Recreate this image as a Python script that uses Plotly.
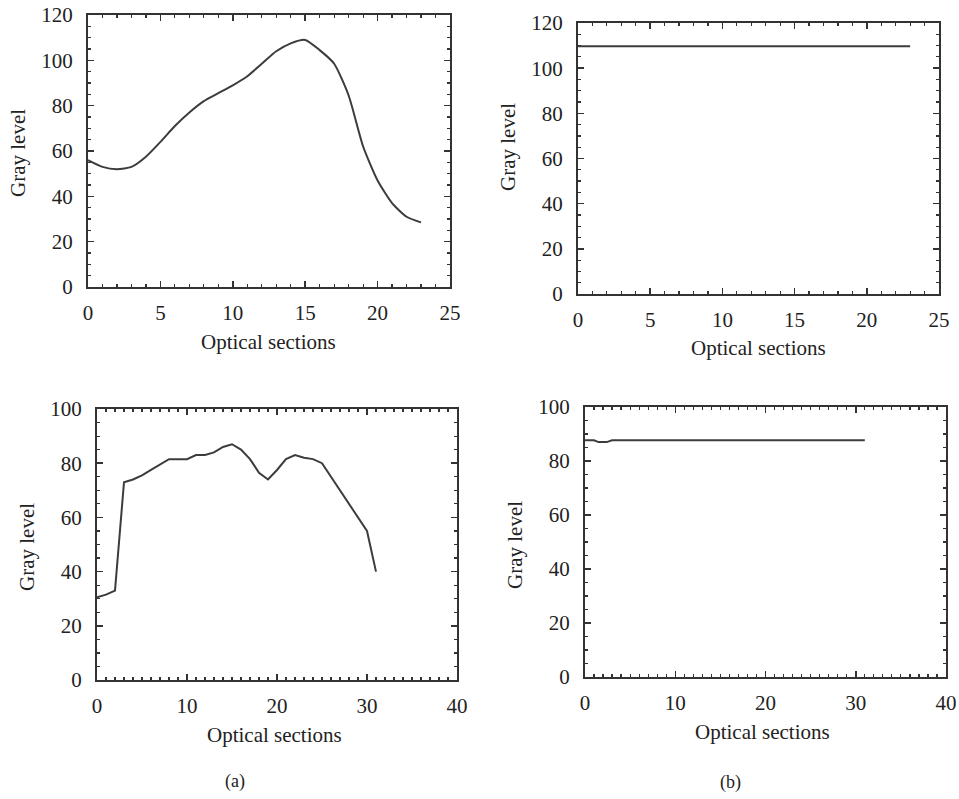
import plotly.graph_objects as go

W, H = 959, 799

# ---- data ----
sec_a1 = list(range(0, 24))
gray_a1 = [56, 53, 52, 53, 57.5, 64, 71, 77, 82, 85.5, 89, 93, 98.5, 104, 107.5, 109,
           104.5, 98.5, 84.5, 62, 47, 37, 31, 28.5]

sec_b1 = [0, 23]
gray_b1 = [109.7, 109.7]

sec_a2 = list(range(0, 32))
gray_a2 = [30.5, 31.5, 33, 73, 74, 75.5, 77.5, 79.5, 81.5, 81.5, 81.5, 83, 83, 84, 86, 87,
           85, 81.5, 76.5, 74, 77.5, 81.5, 83, 82, 81.5, 80, 75, 70, 65.5, 60.5, 55, 40]

sec_b2 = [0, 1, 1.5, 2, 2.4, 3, 31]
gray_b2 = [87.7, 87.7, 87.0, 86.9, 87.0, 87.7, 87.7]

x_ticks_top = [0, 5, 10, 15, 20, 25]
y_ticks_top = [0, 20, 40, 60, 80, 100, 120]
x_ticks_bot = [0, 10, 20, 30, 40]
y_ticks_bot = [0, 20, 40, 60, 80, 100]

# ---- layout geometry (page pixels: left, right, top, bottom) ----
boxes = {
    1: (88, 450, 15, 287),
    2: (578, 939, 23, 294),
    3: (97, 457, 409, 680),
    4: (585, 946, 407, 677),
}


def px_x(p):
    return p / W


def px_y(p):
    return 1 - p / H


FONT = "Liberation Serif"
TXT = "#222222"
AX = "#333333"
LINE = "#3c3c3c"

fig = go.Figure()
fig.add_trace(go.Scatter(x=sec_a1, y=gray_a1, mode="lines", xaxis="x", yaxis="y",
                         line=dict(color=LINE, width=2, shape="spline", smoothing=0.6)))
fig.add_trace(go.Scatter(x=sec_b1, y=gray_b1, mode="lines", xaxis="x2", yaxis="y2",
                         line=dict(color=LINE, width=2)))
fig.add_trace(go.Scatter(x=sec_a2, y=gray_a2, mode="lines", xaxis="x3", yaxis="y3",
                         line=dict(color=LINE, width=2)))
fig.add_trace(go.Scatter(x=sec_b2, y=gray_b2, mode="lines", xaxis="x4", yaxis="y4",
                         line=dict(color=LINE, width=2)))


def axis(domain, rng, ticks, minor_dtick, anchor, is_x):
    return dict(
        domain=domain, range=rng, tickvals=ticks, anchor=anchor,
        automargin=False, ticklabeloverflow="allow",
        showline=True, linecolor=AX, linewidth=2, mirror="ticks",
        ticks="inside", ticklen=6, tickwidth=1.5, tickcolor=AX,
        minor=dict(ticks="inside", ticklen=3, tickwidth=1.2, tickcolor=AX,
                   dtick=minor_dtick, tick0=0, showgrid=False),
        showgrid=False, zeroline=False, fixedrange=True,
        tickfont=dict(family=FONT, size=21, color=TXT),
        ticklabelstandoff=9 if not is_x else 6,
    )


ranges = {
    1: ([0, 25], x_ticks_top, 1, [0, 120], y_ticks_top, 5),
    2: ([0, 25], x_ticks_top, 1, [0, 120], y_ticks_top, 5),
    3: ([0, 40], x_ticks_bot, 1, [0, 100], y_ticks_bot, 5),
    4: ([0, 40], x_ticks_bot, 1, [0, 100], y_ticks_bot, 5),
}

layout = dict(width=W, height=H, margin=dict(l=0, r=0, t=0, b=0, pad=0),
              paper_bgcolor="white", plot_bgcolor="white", showlegend=False,
              hovermode=False)

for i, (l, r, t, b) in boxes.items():
    xr, xt, xm, yr, yt, ym = ranges[i]
    sx = "" if i == 1 else str(i)
    xd = [px_x(l), px_x(r)]
    yd = [px_y(b), px_y(t)]
    layout["xaxis" + sx] = axis(xd, xr, xt, xm, "y" + sx, True)
    layout["yaxis" + sx] = axis(yd, yr, yt, ym, "x" + sx, False)

fig.update_layout(**layout)

# axis titles as annotations
titles = [
    ("Optical sections", 268, 342, 0),
    ("Gray level", 18, 153, -90),
    ("Optical sections", 758, 348, 0),
    ("Gray level", 508, 147, -90),
    ("Optical sections", 274, 735, 0),
    ("Gray level", 27, 547, -90),
    ("Optical sections", 762, 732, 0),
    ("Gray level", 515, 545, -90),
    ("(a)", 235, 781, 0),
    ("(b)", 730, 782, 0),
]
for text, px, py, ang in titles:
    fig.add_annotation(text=text, x=px_x(px), y=px_y(py), xref="paper", yref="paper",
                       showarrow=False, textangle=ang, xanchor="center", yanchor="middle",
                       font=dict(family=FONT, size=18 if text.startswith("(") else 21,
                                 color=TXT))

# remove the browser's default 8px body margin so the figure fills the window
fig.write_html("out.html",
               config={"displayModeBar": False, "staticPlot": True},
               post_script="document.body.style.margin='0';"
                           "document.body.style.overflow='hidden';")
